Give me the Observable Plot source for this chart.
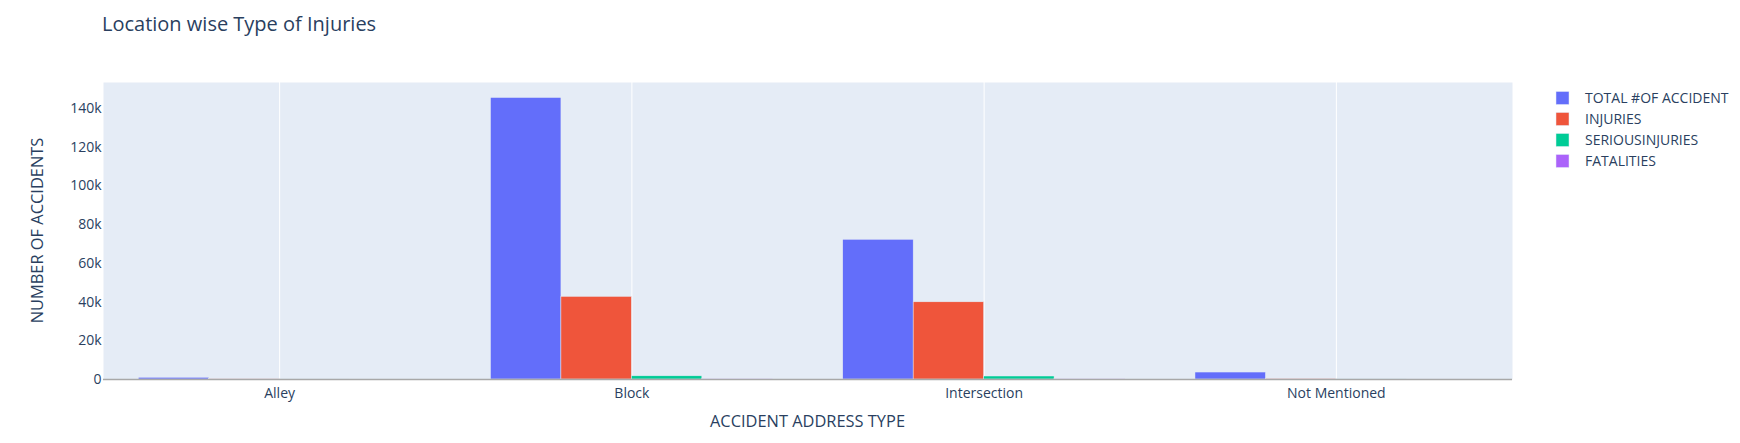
<!DOCTYPE html>
<html>
<head>
<meta charset="utf-8">
<script src="https://cdn.jsdelivr.net/npm/d3@7"></script>
<script src="https://cdn.jsdelivr.net/npm/@observablehq/plot@0.6"></script>
<style>
  body { margin: 0; background: #fff; }
  #chart { position: relative; width: 1740px; height: 443px; }
  #chart svg { display: block; }
</style>
</head>
<body>
<div id="chart"></div>
<script>
// ---- data ----
const categories = ["Alley", "Block", "Intersection", "Not Mentioned"];
const seriesNames = ["TOTAL #OF ACCIDENT", "INJURIES", "SERIOUSINJURIES", "FATALITIES"];
const seriesColors = ["#636efa", "#EF553B", "#00cc96", "#ab63fa"];
const totalAccidents = [880, 145500, 72200, 3600];
const injuries = [150, 42700, 39900, 300];
const seriousInjuries = [10, 1650, 1550, 25];
const fatalities = [1, 160, 180, 4];
const yTicks = [0, 20000, 40000, 60000, 80000, 100000, 120000, 140000];
const chartTitle = "Location wise Type of Injuries";
const xTitle = "ACCIDENT ADDRESS TYPE";
const yTitle = "NUMBER OF ACCIDENTS";

const seriesValues = [totalAccidents, injuries, seriousInjuries, fatalities];
const nSeries = seriesNames.length;
const groupWidth = 0.8; // plotly bargap 0.2
const barWidth = groupWidth / nSeries;

const rows = [];
seriesValues.forEach((vals, s) => {
  vals.forEach((v, c) => {
    const x1 = c - groupWidth / 2 + s * barWidth;
    rows.push({category: categories[c], series: seriesNames[s], x1, x2: x1 + barWidth, value: v});
  });
});
const catIndex = categories.map((_, i) => i);

const font = '"Open Sans", verdana, arial, sans-serif';
const textColor = "#2a3f5f";

const svg = Plot.plot({
  width: 1740,
  height: 443,
  marginLeft: 103,
  marginRight: 228,
  marginTop: 82,
  marginBottom: 64,
  style: {fontFamily: font, fontSize: "14px", color: textColor, background: "white"},
  x: {
    type: "linear",
    domain: [-0.5, categories.length - 0.5],
    ticks: catIndex,
    tickFormat: i => categories[i],
    tickSize: 0,
    tickPadding: 9,
    label: null
  },
  y: {
    domain: [0, 153500],
    ticks: yTicks,
    tickFormat: d => d === 0 ? "0" : (d / 1000) + "k",
    tickSize: 0,
    tickPadding: 2,
    label: null
  },
  color: {domain: seriesNames, range: seriesColors},
  marks: [
    Plot.frame({fill: "#e5ecf6", stroke: "none"}),
    Plot.ruleX(catIndex, {stroke: "white", strokeWidth: 1}),
    Plot.rectY(rows, {x1: "x1", x2: "x2", y: "value", fill: "series", stroke: "#e5ecf6", strokeWidth: 0.5}),
    Plot.ruleY([0], {stroke: "#a8a8a8", strokeWidth: 1.5})
  ]
});

const sel = d3.select(svg);
// title
sel.append("text")
  .attr("x", 102).attr("y", 31)
  .attr("text-anchor", "start")
  .attr("fill", textColor).attr("font-size", 20).attr("font-family", font)
  .text(chartTitle);
// x axis title
sel.append("text")
  .attr("x", 807.5).attr("y", 427)
  .attr("text-anchor", "middle")
  .attr("fill", textColor).attr("font-size", 16.4).attr("font-family", font)
  .text(xTitle);
// y axis title
sel.append("text")
  .attr("transform", "translate(42.5,230.5) rotate(-90)")
  .attr("text-anchor", "middle")
  .attr("fill", textColor).attr("font-size", 16.4).attr("font-family", font)
  .text(yTitle);
// legend
const lg = sel.append("g").attr("font-family", font).attr("font-size", 14)
  .attr("fill", textColor).attr("text-anchor", "start");
seriesNames.forEach((name, i) => {
  const cy = 98 + i * 21;
  lg.append("rect")
    .attr("x", 1556).attr("y", cy - 6.5).attr("width", 13).attr("height", 13)
    .attr("fill", seriesColors[i]).attr("stroke", "#e5ecf6").attr("stroke-width", 0.5);
  lg.append("text")
    .attr("x", 1585).attr("y", cy + 5)
    .attr("text-anchor", "start")
    .text(name);
});

document.getElementById("chart").appendChild(svg);
</script>
</body>
</html>
